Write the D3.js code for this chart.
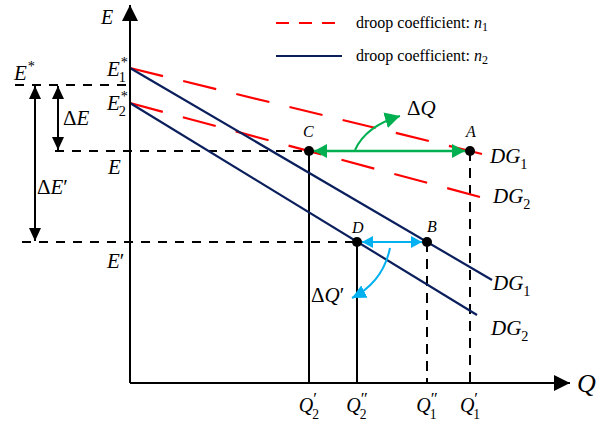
<!DOCTYPE html>
<html>
<head>
<meta charset="utf-8">
<script src="https://cdn.jsdelivr.net/npm/d3@7"></script>
<style>
  body { margin: 0; background: #fff; }
</style>
</head>
<body>
<div id="chart"></div>
<script>
// Q axis positions and E levels (diagram units)
const qNames = ["Q2'", "Q2''", "Q1''", "Q1'"];
const qValues = [179, 227, 297, 340];

const levelNames = ["E*", "E1*", "E2*", "E", "E'"];
const levelValues = [298, 315, 280, 232, 141];

// droop lines: [start E at Q=0] -> [end Q, end E]
const lineNames = ["DG1", "DG2", "DG1", "DG2"];
const lineCoef = ["n1", "n1", "n2", "n2"];
const lineStartE = [315, 280, 315, 280];
const lineEndQ = [352, 350, 362, 347];
const lineEndE = [229, 186, 103, 68];

// operating points
const pointNames = ["A", "B", "C", "D"];
const pointQ = [340, 297, 179, 227];
const pointE = [232, 141, 232, 141];

const width = 614, height = 422;
const red = "#ff0000", navy = "#0a1f5c", green = "#00b050", cyan = "#00b0f0";
const serif = "'Liberation Serif', 'Times New Roman', serif";

const x = d3.scaleLinear().domain([0, 440]).range([130, 570]);
const y = d3.scaleLinear().domain([0, 378]).range([383, 5]);

const svg = d3.select("#chart").append("svg")
    .attr("width", width)
    .attr("height", height)
    .attr("font-family", serif);

const defs = svg.append("defs");
function marker(id, color, len, half) {
    defs.append("marker")
        .attr("id", id)
        .attr("markerUnits", "userSpaceOnUse")
        .attr("viewBox", `0 ${-half} ${len} ${half * 2}`)
        .attr("refX", len).attr("refY", 0)
        .attr("markerWidth", len).attr("markerHeight", half * 2)
        .attr("orient", "auto-start-reverse")
        .append("path")
        .attr("d", `M0,${-half}L${len},0L0,${half}Z`)
        .attr("fill", color);
}
marker("axis", "#000", 16, 8);
marker("blk", "#000", 13, 6);
marker("grn", green, 13, 7);
marker("grnc", green, 15, 8);
marker("cyn", cyan, 11, 6);
marker("cync", cyan, 14, 7);

// one text element: pre + italic main + post, then stacked sup / sub
function label(px, py, main, sub, sup, size, opts = {}) {
    const t = svg.append("text").attr("x", px).attr("y", py)
        .attr("font-size", size).attr("fill", "#000");
    (opts.pre ? [[opts.pre, false]] : []).concat([[main, true]]).concat(opts.post ? [[opts.post, false]] : [])
        .forEach(([s, it]) => t.append("tspan").text(s).attr("font-style", it ? "italic" : "normal"));
    const supdy = (opts.supdy !== undefined ? opts.supdy : 0.45) * size;
    const subdy = (opts.subdy !== undefined ? opts.subdy : 0.28) * size;
    let back = 0;
    if (sup) {
        const s = t.append("tspan").attr("dx", opts.supdx || 0).attr("dy", -supdy)
            .attr("font-size", size * (opts.supsize || 0.68)).text(sup);
        back = s.node().getComputedTextLength() + (opts.supdx || 0);
    }
    if (sub) {
        t.append("tspan").attr("dx", -back + (opts.subdx || 0))
            .attr("dy", (sup ? supdy : 0) + subdy)
            .attr("font-size", size * 0.68).text(sub);
    }
    return t;
}

const dash = "9,8";

// dashed reference levels
svg.append("line").attr("x1", 15).attr("x2", x(0)).attr("y1", y(levelValues[0])).attr("y2", y(levelValues[0]))
    .attr("stroke", "#000").attr("stroke-width", 2).attr("stroke-dasharray", dash);
svg.append("line").attr("x1", 55).attr("x2", x(pointQ[2])).attr("y1", y(levelValues[3])).attr("y2", y(levelValues[3]))
    .attr("stroke", "#000").attr("stroke-width", 2).attr("stroke-dasharray", dash);
svg.append("line").attr("x1", 22).attr("x2", x(pointQ[3])).attr("y1", y(levelValues[4])).attr("y2", y(levelValues[4]))
    .attr("stroke", "#000").attr("stroke-width", 2).attr("stroke-dasharray", dash);

// verticals to the Q axis (A, B dashed; C, D solid)
const vertDash = ["10,7", "10,7", null, null];
pointNames.forEach((p, i) => {
    svg.append("line").attr("x1", x(pointQ[i])).attr("x2", x(pointQ[i]))
        .attr("y1", y(pointE[i])).attr("y2", y(0))
        .attr("stroke", "#000").attr("stroke-width", 2)
        .attr("stroke-dasharray", vertDash[i]);
});

// droop lines
lineNames.forEach((n, i) => {
    const x1 = x(0), y1 = y(lineStartE[i]), x2 = x(lineEndQ[i]), y2 = y(lineEndE[i]);
    let da = null;
    if (lineCoef[i] === "n1") {
        // fit dash pattern so the line ends on a full dash
        const L = Math.hypot(x2 - x1, y2 - y1), d = 34;
        const k = Math.round((L - d) / 54);
        da = `${d},${(L - d * (k + 1)) / k}`;
    }
    svg.append("line")
        .attr("x1", x1).attr("y1", y1).attr("x2", x2).attr("y2", y2)
        .attr("stroke", lineCoef[i] === "n1" ? red : navy)
        .attr("stroke-width", 2.2)
        .attr("stroke-dasharray", da);
});

// axes
svg.append("line").attr("x1", x(0)).attr("y1", y(0)).attr("x2", x(0)).attr("y2", y(378))
    .attr("stroke", "#000").attr("stroke-width", 2).attr("marker-end", "url(#axis)");
svg.append("line").attr("x1", x(0)).attr("y1", y(0)).attr("x2", x(440)).attr("y2", y(0))
    .attr("stroke", "#000").attr("stroke-width", 2).attr("marker-end", "url(#axis)");
label(101, 24, "E", null, null, 20);
label(577, 392, "Q", null, null, 26);

// delta E arrows
svg.append("line").attr("x1", 58).attr("x2", 58).attr("y1", y(levelValues[0]) + 1).attr("y2", y(levelValues[3]) - 1)
    .attr("stroke", "#000").attr("stroke-width", 2)
    .attr("marker-start", "url(#blk)").attr("marker-end", "url(#blk)");
svg.append("line").attr("x1", 35).attr("x2", 35).attr("y1", y(levelValues[0]) + 1).attr("y2", y(levelValues[4]) - 1)
    .attr("stroke", "#000").attr("stroke-width", 2)
    .attr("marker-start", "url(#blk)").attr("marker-end", "url(#blk)");
label(63, 125, "E", null, null, 21, { pre: "Δ" });
label(37, 194, "E", null, null, 21, { pre: "Δ", post: "′" });

// E level labels
label(14, 80, "E", null, "*", 21, { supdx: 1 });
label(107, 76, "E", "1", "*", 21, { subdx: -1, supdx: 1 });
label(107, 110, "E", "2", "*", 21, { subdx: -1, supdx: 1 });
label(108, 174, "E", null, null, 21);
label(107, 268, "E", null, null, 21, { post: "′" });

// line labels
const lblPos = [[490, 163], [493, 203], [493, 290], [491, 335]];
lineNames.forEach((n, i) => {
    label(lblPos[i][0], lblPos[i][1], "DG", n.slice(2), null, 21);
});

// Q tick labels
qNames.forEach((n, i) => {
    const primes = n.slice(2) === "''" ? "″" : "′";
    const t = label(0, 412, "Q", n[1], primes, 20,
        { subdx: -1, supdx: 0, supdy: 0.4, supsize: 0.85, subdy: 0.34 });
    const bb = t.node().getBBox();
    t.attr("transform", `translate(${x(qValues[i]) - bb.width / 2},0)`);
});

// delta Q arrows (green)
svg.append("line").attr("x1", x(pointQ[2]) + 5).attr("x2", x(pointQ[0]) - 5)
    .attr("y1", y(pointE[0])).attr("y2", y(pointE[0]))
    .attr("stroke", green).attr("stroke-width", 2.5)
    .attr("marker-start", "url(#grn)").attr("marker-end", "url(#grn)");
const gp = d3.path();
gp.moveTo(355, y(pointE[0]) - 1);
gp.quadraticCurveTo(366, 126, 400, 116);
svg.append("path").attr("d", gp.toString()).attr("fill", "none")
    .attr("stroke", green).attr("stroke-width", 2).attr("marker-end", "url(#grnc)");
label(407, 115, "Q", null, null, 21, { pre: "Δ" });

// delta Q' arrows (cyan)
svg.append("line").attr("x1", x(pointQ[3]) + 5).attr("x2", x(pointQ[1]) - 5)
    .attr("y1", y(pointE[1])).attr("y2", y(pointE[1]))
    .attr("stroke", cyan).attr("stroke-width", 2)
    .attr("marker-start", "url(#cyn)").attr("marker-end", "url(#cyn)");
const cp = d3.path();
cp.moveTo(390, 248);
cp.quadraticCurveTo(383, 282, 352, 298);
svg.append("path").attr("d", cp.toString()).attr("fill", "none")
    .attr("stroke", cyan).attr("stroke-width", 2).attr("marker-end", "url(#cync)");
label(311, 302, "Q", null, null, 21, { pre: "Δ", post: "′" });

// points
const ptLbl = [[466, 137], [427, 232], [303, 137], [352, 233]];
pointNames.forEach((p, i) => {
    svg.append("circle").attr("cx", x(pointQ[i])).attr("cy", y(pointE[i])).attr("r", 5).attr("fill", "#000");
    svg.append("text").attr("x", ptLbl[i][0]).attr("y", ptLbl[i][1])
        .attr("font-size", 16).attr("font-style", "italic").text(p);
});

// legend
const legY = [23, 56];
["n1", "n2"].forEach((c, i) => {
    svg.append("line").attr("x1", 276).attr("x2", 342).attr("y1", legY[i]).attr("y2", legY[i])
        .attr("stroke", c === "n1" ? red : navy).attr("stroke-width", 2)
        .attr("stroke-dasharray", c === "n1" ? "13,10" : null);
    const t = svg.append("text").attr("x", 356).attr("y", legY[i] + 5).attr("font-size", 16);
    t.append("tspan").text("droop coefficient: ");
    t.append("tspan").text("n").attr("font-style", "italic");
    t.append("tspan").text(c[1]).attr("font-size", 12).attr("dy", 3);
});
</script>
</body>
</html>
